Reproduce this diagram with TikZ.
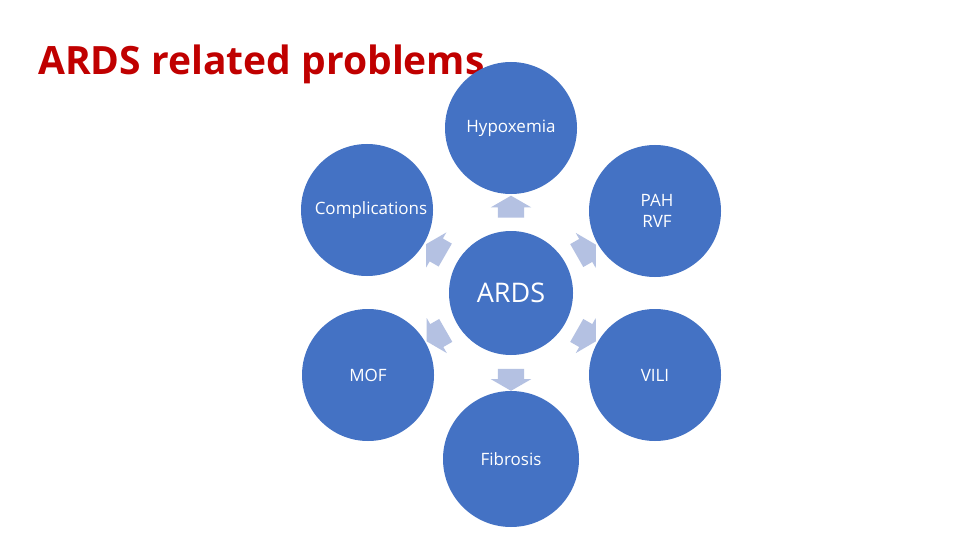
\documentclass[tikz,border=0pt]{standalone}
\usepackage{fontspec}
\setmainfont{Open Sans}
\usepackage{xcolor}
\usepackage{tikz}
\usetikzlibrary{shapes,shapes.arrows,positioning,calc}
\definecolor{ballblue}{HTML}{4472C4}
\definecolor{arrowblue}{HTML}{B4C1E2}
\definecolor{titlered}{HTML}{C00000}
\tikzset{
  bigcirc/.style={circle, fill=ballblue, text=white, minimum size=132pt, inner sep=0pt, align=center, font=\fontsize{17}{21}\selectfont},
  blockarr/.style={single arrow, fill=arrowblue, draw=none, inner sep=0pt, text width=0pt, text height=13pt, text depth=13pt, minimum height=22pt, single arrow head extend=7pt, single arrow tip angle=120}
}

\begin{document}
\begin{tikzpicture}[x=1pt, y=-1pt]
			\useasboundingbox (0,0) rectangle (960,540);
			\fill[white] (0,0) rectangle (960,540);
			
			% Title
			\node[anchor=base west, text=titlered, font=\fontsize{39}{45}\selectfont\bfseries, inner sep=0pt] (title) at (38,75) {ARDS related problems};
			
			% Center and outer circles
			\node[bigcirc, minimum size=124pt, font=\fontsize{27}{32}\selectfont] (ards) at (511,293) {ARDS};
			\node[bigcirc] (hyp) at (511,128) {Hypoxemia};
			\node[bigcirc] (pah) at (655,211) {\hspace*{4pt}PAH\\\hspace*{4pt}RVF};
			\node[bigcirc] (vili) at (655,375) {VILI};
			\node[bigcirc, minimum size=136pt] (fib) at (511,459) {Fibrosis};
			\node[bigcirc] (mof) at (368,375) {MOF};
			\node[bigcirc] (comp) at (367,210) {\hspace*{8pt}Complications};
			
			% Block arrows pointing outwards
			\foreach \c in {hyp,pah,vili,fib,mof,comp}{
				\path let \p1=($(\c)-(ards)$), \n1={atan2(\y1,\x1)} in
					node[blockarr, rotate=\n1] (arr-\c) at ($(ards)!0.5!(\c)$) {};
			}
		\end{tikzpicture}
\end{document}
